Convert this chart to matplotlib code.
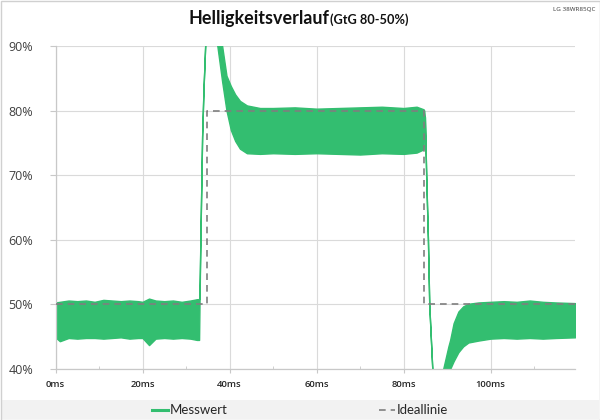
import matplotlib
matplotlib.use("Agg")
import matplotlib.pyplot as plt
from matplotlib.lines import Line2D
from matplotlib.patches import Rectangle
from matplotlib.ticker import MultipleLocator, FuncFormatter

# ---------------- data ----------------
# measured brightness: upper / lower envelope of the dense oscillation (%)
t_ms = [0, 1, 3, 5, 7, 9, 11, 13, 15, 17, 19, 20, 21.5, 23, 25, 27, 29, 31, 32.5, 33.0,
        33.1, 33.3, 33.7, 34.0, 34.4, 35.2, 36.2, 37.2, 38.3, 39.3, 40.3, 41.3, 42.4,
        44.0, 47, 50, 55, 60, 65, 70, 75, 80, 83, 84.6,
        84.75, 84.9, 85.2, 85.6, 85.9, 86.6, 87.5, 88.3,
        89.1, 90.3, 90.7, 91.5, 92.6, 93.7, 94.9, 97.2, 100, 103, 106, 109, 112, 115, 119.4]
upper = [50.3, 50.4, 50.6, 50.5, 50.6, 50.4, 50.7, 50.6, 50.5, 50.6, 50.5, 50.4, 50.9, 50.6, 50.5, 50.6, 50.4, 50.6, 50.8, 50.8,
         52.0, 60.0, 76.0, 83.0, 90.0, 96.0, 97.0, 93.5, 90.0, 85.4, 83.8, 82.5, 81.5,
         80.8, 80.4, 80.4, 80.5, 80.3, 80.4, 80.5, 80.6, 80.4, 80.6, 80.2,
         80.0, 79.0, 70.0, 60.0, 50.0, 40.0, 36.5, 36.5,
         40.0, 43.5, 44.5, 47.1, 48.9, 49.7, 50.1, 50.3, 50.4, 50.5, 50.4, 50.6, 50.4, 50.3, 50.2]
lower = [44.9, 44.3, 44.8, 44.7, 44.8, 44.8, 44.7, 44.8, 44.9, 44.7, 44.8, 44.8, 43.7, 44.7, 44.8, 44.7, 44.8, 44.7, 44.5, 44.5,
         50.0, 60.0, 76.0, 83.0, 90.0, 96.0, 94.0, 90.0, 84.5, 80.0, 77.0, 75.3, 74.1,
         73.4, 73.3, 73.4, 73.3, 73.4, 73.3, 73.2, 73.4, 73.3, 73.5, 74.0,
         78.0, 79.0, 70.0, 60.0, 50.0, 40.0, 36.5, 35.5,
         37.5, 39.2, 40.0, 41.2, 42.6, 43.5, 44.1, 44.4, 44.7, 44.8, 44.7, 44.8, 44.7, 44.8, 44.9]

# ideal curve
ideal_t = [0, 34.9, 34.9, 84.6, 84.6, 119.4]
ideal_v = [50, 50, 80, 80, 50, 50]

x_ticks = [0, 20, 40, 60, 80, 100]
y_ticks = [40, 50, 60, 70, 80, 90]

title_main = "Helligkeitsverlauf"
title_sub = "(GtG 80-50%)"
model = "LG 38WR85QC"
legend_labels = ["Messwert", "Ideallinie"]

GREEN = "#33BE70"
GREY = "#7F7F7F"

# ---------------- figure ----------------
fig = plt.figure(figsize=(6, 4.2), dpi=100)
W, H = 600, 420
ax = fig.add_axes([55.5 / W, 1 - 369 / H, (575 - 55.5) / W, (369 - 46) / H])

ax.fill_between(t_ms, lower, upper, color=GREEN, linewidth=1.0, edgecolor=GREEN, zorder=2)
ax.plot(ideal_t, ideal_v, color=GREY, linestyle=(0, (4, 3)), linewidth=1.2, zorder=3)

ax.set_xlim(0, 119.4)
ax.set_ylim(40, 90)
ax.set_xticks(x_ticks)
ax.xaxis.set_minor_locator(MultipleLocator(10))
ax.set_yticks(y_ticks)
ax.xaxis.set_major_formatter(FuncFormatter(lambda v, p: f"{v:.0f}ms"))
ax.yaxis.set_major_formatter(FuncFormatter(lambda v, p: f"{v:.0f}%"))

ax.grid(True, which="major", color="#DADADA", linewidth=0.8, zorder=0)
ax.set_axisbelow(True)
for s in ["top", "right"]:
    ax.spines[s].set_visible(False)
for s in ["left", "bottom"]:
    ax.spines[s].set_color("#C8C8C8")
    ax.spines[s].set_linewidth(0.9)

ax.tick_params(axis="y", which="major", length=4, color="#C8C8C8", pad=12,
               labelsize=9, labelcolor="#404040")
ax.tick_params(axis="x", which="major", length=3, color="#C8C8C8", pad=5,
               labelsize=6.8, labelcolor="#262626")
ax.tick_params(axis="x", which="minor", length=2.5, direction="in", color="#C8C8C8")
for lab in ax.get_yticklabels():
    lab.set_fontfamily("Open Sans")
for lab in ax.get_xticklabels():
    lab.set_fontfamily("Open Sans")
    lab.set_fontweight("semibold")

renderer = fig.canvas.get_renderer()


def fit_text(x_px, y_frac, s, width_px, size, **kw):
    t = fig.text(x_px / W, y_frac, s, fontsize=size, **kw)
    w = t.get_window_extent(renderer=renderer).width
    t.set_fontsize(size * width_px / w)
    return t


# title
fit_text(188, 1 - 24 / H, title_main, 140, 15, fontweight="bold",
         family="Lato", color="#111111", ha="left", va="baseline")
fit_text(330.5, 1 - 24 / H, title_sub, 79, 9, fontweight="bold",
         family="Lato", color="#111111", ha="left", va="baseline")
fig.text(595 / W, 1 - 9 / H, model, fontsize=4.5, family="Open Sans",
         color="#333333", ha="right", va="center")

# legend band
fig.patches.append(Rectangle((1 / W, 1 / H), 598 / W, (419.5 - 400) / H,
                             transform=fig.transFigure, facecolor="#F2F2F2",
                             edgecolor="none", zorder=0))
ly = 1 - 409.5 / H
fig.lines.append(Line2D([152 / W, 168 / W], [ly, ly], transform=fig.transFigure,
                        color=GREEN, linewidth=2.2))
fit_text(169.5, ly, legend_labels[0], 58, 9.5, family="Lato",
         color="#262626", ha="left", va="center")
fig.lines.append(Line2D([379 / W, 395 / W], [ly, ly], transform=fig.transFigure,
                        color=GREY, linewidth=1.2, linestyle=(0, (4, 3))))
fit_text(397, ly, legend_labels[1], 52, 9.5, family="Lato",
         color="#262626", ha="left", va="center")

# outer border
fig.patches.append(Rectangle((0.5 / W, 0.5 / H), 599 / W, 419 / H,
                             transform=fig.transFigure, facecolor="none",
                             edgecolor="#D0D0D0", linewidth=1.0, zorder=5))

fig.savefig("out.png", dpi=100)
